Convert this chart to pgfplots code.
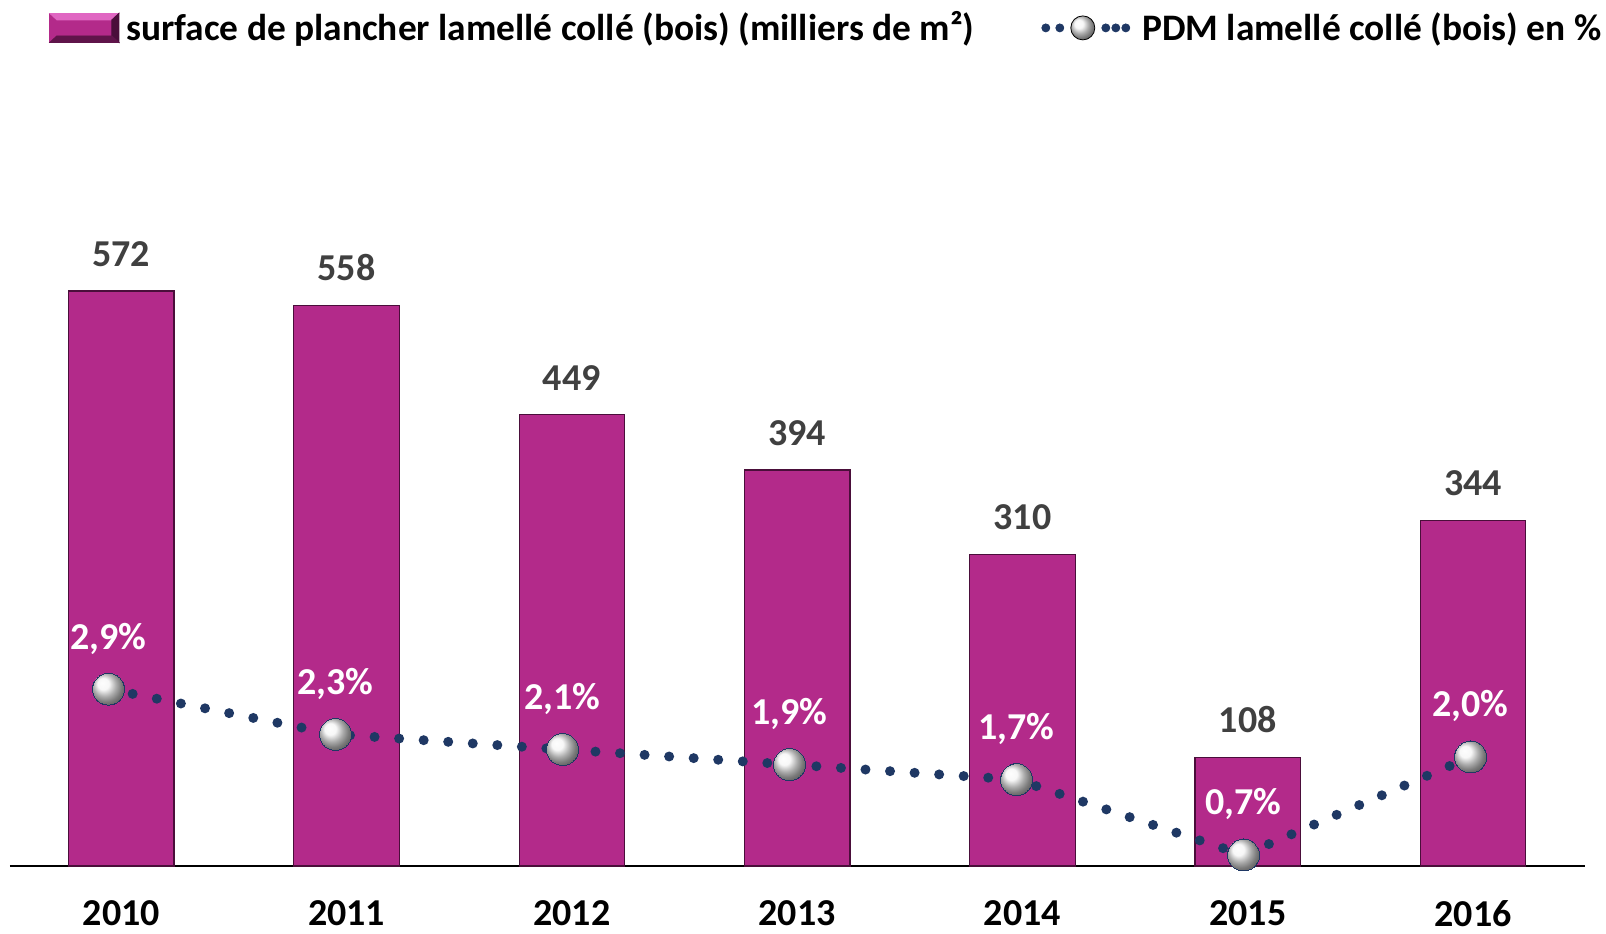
\documentclass[border=0pt]{standalone}
\usepackage{pgfplots}
\pgfplotsset{compat=1.18}
\usepackage{fontspec}
\setmainfont{Carlito}
\definecolor{barc}{HTML}{B32A8A}
\definecolor{bard}{HTML}{4A0E3A}
\definecolor{barl}{HTML}{E066C2}
\definecolor{linec}{HTML}{1F3864}
\definecolor{lblc}{HTML}{404040}
\pgfplotsset{/pgf/number format/assume math mode=true}
\begin{document}
\begin{tikzpicture}[font=\fontsize{19}{22}\selectfont\bfseries]
\useasboundingbox (0,0) rectangle (803pt,466.5pt);
\begin{axis}[at={(5pt,33.5pt)}, anchor=south west, scale only axis,
  width=787.5pt, height=392pt,
  xmin=-0.494, xmax=6.497, ymin=0, ymax=780,
  axis x line=bottom, axis y line=none,
  x axis line style={-, line width=1pt, black},
  xtick={0,1,2,3,4,5,6},
  xticklabels={2010,2011,2012,2013,2014,2015,2016},
  major tick length=0pt,
  xticklabel style={anchor=north, inner sep=0pt, yshift=-17pt, text=black},
  ytick=\empty,
  legend style={at={(0.0248,1.069)}, anchor=west, draw=none, fill=none,
    inner sep=0pt, nodes={inner sep=0pt},
    /tikz/every odd column/.append style={column sep=3.5pt},
    font=\fontsize{18.7}{22}\selectfont\bfseries, legend cell align=left},
  clip=false]
\addplot[ybar, bar width=52.75pt, bar shift=0pt, fill=barc, draw=bard, line width=0.6pt,
  nodes near coords,
  nodes near coords style={anchor=south, inner sep=0pt, yshift=12pt, text=lblc},
  forget plot]
  coordinates {(0,572) (1,558) (2,449) (3,394) (4,310) (5,108) (6,344)};
\addlegendimage{legend image code/.code={
  \fill[barc] (0pt,-7.25pt) rectangle (34.5pt,7.25pt);
  \fill[barl] (0pt,7.25pt) -- (34.5pt,7.25pt) -- (31pt,4pt) -- (3.5pt,4pt) -- cycle;
  \fill[bard] (34.5pt,7.25pt) -- (34.5pt,-7.25pt) -- (31pt,-4pt) -- (31pt,4pt) -- cycle;
  \fill[bard!80!barc] (0pt,-7.25pt) -- (34.5pt,-7.25pt) -- (31pt,-4pt) -- (3.5pt,-4pt) -- cycle;}}
\addlegendentry{surface de plancher lamellé collé (bois) (milliers de m²)}
\end{axis}
\begin{axis}[at={(5pt,33.5pt)}, anchor=south west, scale only axis,
  width=787.5pt, height=392pt,
  xmin=-0.434, xmax=6.504, ymin=0.554, ymax=10.95,
  axis lines=none, clip=false,
  legend style={at={(0.6546,1.069)}, anchor=west, draw=none, fill=none,
    inner sep=0pt, nodes={inner sep=0pt},
    /tikz/every odd column/.append style={column sep=6pt},
    font=\fontsize{18.7}{22}\selectfont\bfseries, legend cell align=left}]
\addplot[linec, line width=5pt, line cap=round, dash pattern=on 0pt off 12.3pt,
  mark=ball, mark size=8pt, mark options={solid, draw=none, line width=0pt, ball color=gray!8},
  nodes near coords, point meta=explicit symbolic,
  nodes near coords style={anchor=base, inner sep=0pt, yshift=20pt, text=white},
  forget plot]
  table[meta=label] {
x y label
0 2.9 {2,9\%}
1 2.3 {2,3\%}
2 2.1 {2,1\%}
3 1.9 {1,9\%}
4 1.7 {1,7\%}
5 0.7 {0,7\%}
6 2.0 {2,0\%}
};
\addlegendimage{legend image code/.code={
  \fill[linec] (2pt,0pt) circle (2pt);
  \fill[linec] (9pt,0pt) circle (2pt);
  \fill[linec] (32pt,0pt) circle (2pt);
  \fill[linec] (37pt,0pt) circle (2pt);
  \fill[linec] (42pt,0pt) circle (2pt);
  \shade[ball color=gray!8] (20.5pt,0pt) circle (6pt);}}
\addlegendentry{PDM lamellé collé (bois) en \%}
\end{axis}
\end{tikzpicture}
\end{document}
